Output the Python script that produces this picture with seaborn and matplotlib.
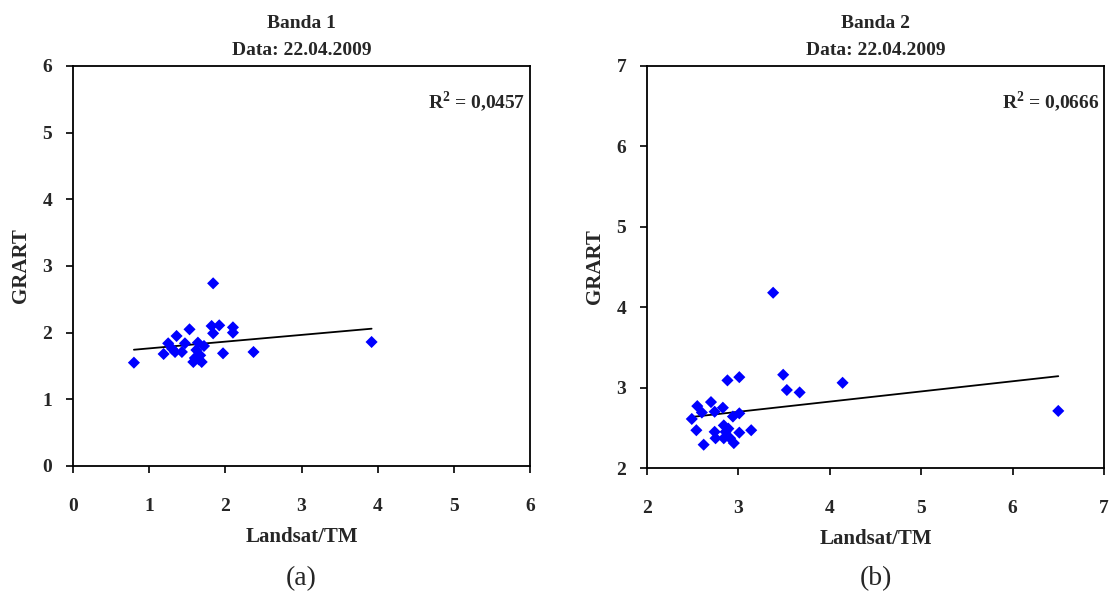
import matplotlib
matplotlib.use("Agg")
import matplotlib.pyplot as plt
import seaborn as sns
import numpy as np

# Banda 1
band1_x = [0.80, 1.19, 1.25, 1.36, 1.53, 1.34, 1.43, 1.47, 1.64, 1.62, 1.67, 1.58, 1.69,
           1.82, 1.92, 1.84, 2.10, 2.10, 1.97, 2.37, 1.84, 3.92, 1.30, 1.72, 1.60, 1.65]
band1_y = [1.55, 1.68, 1.84, 1.95, 2.05, 1.71, 1.71, 1.84, 1.85, 1.74, 1.66, 1.56, 1.56,
           2.10, 2.11, 1.99, 2.08, 2.00, 1.69, 1.71, 2.74, 1.86, 1.76, 1.80, 1.62, 1.60]

# Banda 2
band2_x = [2.49, 2.54, 2.55, 2.60, 2.62, 2.70, 2.74, 2.74, 2.75, 2.83, 2.84, 2.88, 2.86,
           2.89, 2.84, 2.91, 2.94, 2.95, 3.01, 3.01, 3.01, 3.14, 3.49, 3.53, 3.67, 4.14,
           6.50, 3.38]
band2_y = [2.61, 2.47, 2.77, 2.69, 2.29, 2.82, 2.70, 2.45, 2.37, 2.75, 2.53, 3.09, 2.45,
           2.49, 2.37, 2.37, 2.64, 2.31, 3.13, 2.68, 2.44, 2.47, 3.16, 2.97, 2.94, 3.06,
           2.71, 4.18]

titles = ["Banda 1\nData: 22.04.2009", "Banda 2\nData: 22.04.2009"]
r2_labels = ["R$^2$ = 0,0457", "R$^2$ = 0,0666"]
panel_labels = ["(a)", "(b)"]
x_ticks = [[0, 1, 2, 3, 4, 5, 6], [2, 3, 4, 5, 6, 7]]
y_ticks = [[0, 1, 2, 3, 4, 5, 6], [2, 3, 4, 5, 6, 7]]

sns.set_theme(style="white")
plt.rcParams['font.family'] = ['Liberation Serif', 'DejaVu Serif']
plt.rcParams['mathtext.fontset'] = 'custom'
plt.rcParams['mathtext.rm'] = 'Liberation Serif:bold'
plt.rcParams['mathtext.bf'] = 'Liberation Serif:bold'

fig = plt.figure(figsize=(11.14, 5.94), dpi=100)
ax1 = fig.add_axes([0.0655, 0.2155, 0.4103, 0.6734])
ax2 = fig.add_axes([0.5808, 0.2121, 0.4102, 0.6768])

data = [(band1_x, band1_y), (band2_x, band2_y)]
panel_y = [-0.2825, -0.276]
for i, ax in enumerate([ax1, ax2]):
    xs, ys = data[i]
    sns.regplot(x=np.array(xs), y=np.array(ys), ax=ax, ci=None, truncate=True,
                marker="D",
                scatter_kws=dict(color="#0000FF", s=38, alpha=1, edgecolors="none", zorder=3),
                line_kws=dict(color="black", lw=1.3, zorder=2))
    ax.set_xlim(x_ticks[i][0], x_ticks[i][-1])
    ax.set_ylim(y_ticks[i][0], y_ticks[i][-1])
    ax.set_xticks(x_ticks[i])
    ax.set_yticks(y_ticks[i])
    for s in ax.spines.values():
        s.set_visible(True)
        s.set_color("black")
        s.set_linewidth(1.3)
    ax.tick_params(axis="both", direction="out", length=5, width=1.2, color="black",
                   labelsize=14, bottom=True, left=True)
    ax.tick_params(axis="x", pad=18)
    ax.tick_params(axis="y", pad=10)
    for lab in ax.get_xticklabels() + ax.get_yticklabels():
        lab.set_fontweight("bold")
    ax.set_xlabel("Landsat/TM", fontsize=15, fontweight="bold", labelpad=9)
    ax.set_ylabel("GRART", fontsize=15, fontweight="bold", labelpad=8)
    ax.set_title(titles[i], fontsize=14, fontweight="bold", pad=8, linespacing=1.75)
    ax.text(0.99, 0.91, r2_labels[i], transform=ax.transAxes, ha="right", va="center",
            fontsize=14, fontweight="bold")
    ax.text(0.5, panel_y[i], panel_labels[i], transform=ax.transAxes, ha="center", va="center",
            fontsize=20)

fig.savefig("out.png", dpi=100, facecolor="white")
